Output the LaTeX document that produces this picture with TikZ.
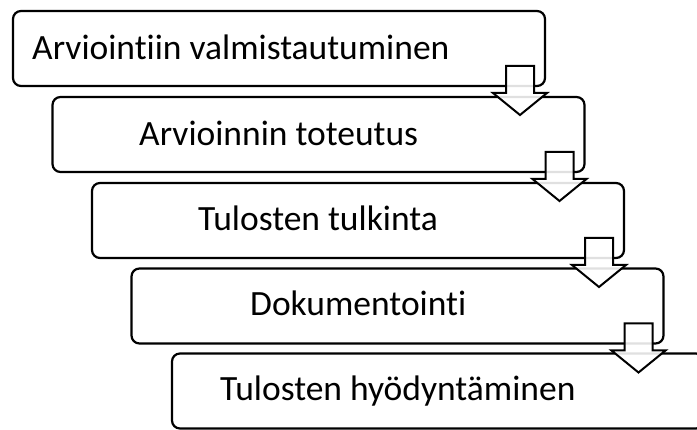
\documentclass[tikz,border=0pt]{standalone}
\usepackage{fontspec}
\setmainfont{Carlito}[Ligatures={NoCommon,NoContextual}]
\usetikzlibrary{calc}
\tikzset{
  stage/.style={draw=black, line width=2.2pt, rounded corners=8pt, fill=white,
    minimum width=532pt, minimum height=75pt, inner sep=0pt, outer sep=0pt},
  label/.style={anchor=base west, inner sep=0pt, font=\fontsize{35.5}{42}\selectfont},
  flow/.style={draw=black, line width=2pt, line join=miter, fill=white, fill opacity=0.88}
}
\begin{document}
\begin{tikzpicture}[x=1pt, y=-1pt]
        \useasboundingbox (0,0) rectangle (697,430);
        \clip (0,0) rectangle (697,430);
        \node[stage] (b1) at (279, 48.5) {};
        \node[stage] (b2) at (318.5, 134.5) {};
        \node[stage] (b3) at (358, 220.5) {};
        \node[stage] (b4) at (397.5, 306) {};
        \node[stage] (b5) at (438, 391) {};
        \node[label] (t1) at (32, 59.5) {Arviointiin valmistautuminen};
        \node[label] (t2) at (139, 145.5) {Arvioinnin toteutus};
        \node[label] (t3) at (198, 230.5) {Tulosten tulkinta};
        \node[label] (t4) at (250, 315.5) {Dokumentointi};
        \node[label] (t5) at (220, 400.5) {Tulosten hyödyntäminen};
        \foreach \i in {1,...,4}
          \draw[flow] ($(b\i.south east)+(-39,-20)$) -- ++(28,0) -- ++(0,27) -- ++(13,0)
            -- ++(-27,22) -- ++(-27,-22) -- ++(13,0) -- cycle;
\end{tikzpicture}
\end{document}
